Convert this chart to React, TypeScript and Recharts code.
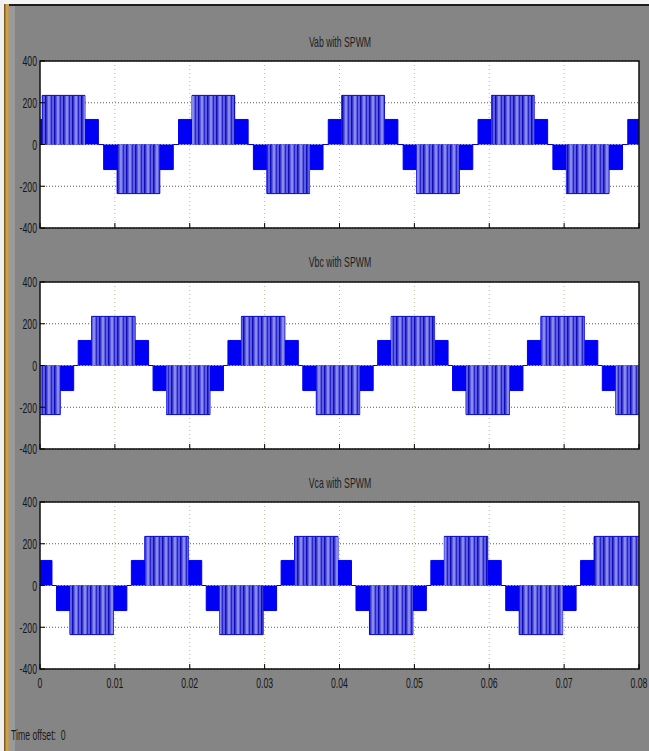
import React from "react";
import {
  ComposedChart,
  Area,
  XAxis,
  YAxis,
  CartesianGrid,
  ReferenceArea,
} from "recharts";

// Each entry: [time in s, voltage held until the next entry]
const vabSteps: [number, number][] = [
  [0, 120], [0.0003, 235], [0.006, 120], [0.0078, 0], [0.0085, -120], [0.0103, -235],
  [0.016, -120], [0.0178, 0], [0.0185, 120], [0.0203, 235], [0.026, 120], [0.0278, 0],
  [0.0285, -120], [0.0303, -235], [0.036, -120], [0.0378, 0], [0.0385, 120], [0.0403, 235],
  [0.046, 120], [0.0478, 0], [0.0485, -120], [0.0503, -235], [0.056, -120], [0.0578, 0],
  [0.0585, 120], [0.0603, 235], [0.066, 120], [0.0678, 0], [0.0685, -120], [0.0703, -235],
  [0.076, -120], [0.0778, 0], [0.0785, 120], [0.08, 120],
];

const vbcSteps: [number, number][] = [
  [0, -235], [0.0027, -120], [0.0045, 0], [0.0051, 120], [0.0069, 235], [0.0127, 120],
  [0.0145, 0], [0.0151, -120], [0.0169, -235], [0.0227, -120], [0.0245, 0], [0.0251, 120],
  [0.0269, 235], [0.0327, 120], [0.0345, 0], [0.0351, -120], [0.0369, -235], [0.0427, -120],
  [0.0445, 0], [0.0451, 120], [0.0469, 235], [0.0527, 120], [0.0545, 0], [0.0551, -120],
  [0.0569, -235], [0.0627, -120], [0.0645, 0], [0.0651, 120], [0.0669, 235], [0.0727, 120],
  [0.0745, 0], [0.0751, -120], [0.0769, -235], [0.08, -235],
];

const vcaSteps: [number, number][] = [
  [0, 120], [0.0016, 0], [0.0022, -120], [0.004, -235], [0.0098, -120], [0.0116, 0],
  [0.0122, 120], [0.014, 235], [0.0198, 120], [0.0216, 0], [0.0222, -120], [0.024, -235],
  [0.0298, -120], [0.0316, 0], [0.0322, 120], [0.034, 235], [0.0398, 120], [0.0416, 0],
  [0.0422, -120], [0.044, -235], [0.0498, -120], [0.0516, 0], [0.0522, 120], [0.054, 235],
  [0.0598, 120], [0.0616, 0], [0.0622, -120], [0.064, -235], [0.0698, -120], [0.0716, 0],
  [0.0722, 120], [0.074, 235], [0.08, 235],
];

const timeTicks = [0, 0.01, 0.02, 0.03, 0.04, 0.05, 0.06, 0.07, 0.08];
const timeLabels = ["0", "0.01", "0.02", "0.03", "0.04", "0.05", "0.06", "0.07", "0.08"];
const voltTicks = [-400, -200, 0, 200, 400];
const voltLabels = ["-400", "-200", "0", "200", "400"];
const titles = ["Vab with SPWM", "Vbc with SPWM", "Vca with SPWM"];

// envelope plus the part of the staircase where the PWM switches to the top level
function buildRows(steps: [number, number][]) {
  return steps.map(([t, v], i) => {
    const prev = i > 0 ? steps[i - 1][1] : 0;
    let pwm: number | null = null;
    if (Math.abs(v) > 200) pwm = v;
    else if (Math.abs(prev) > 200) pwm = prev;
    return { t, v, pwm };
  });
}

const condensed = "Liberation Sans, Arial, sans-serif";

function YTick(props: any) {
  const { x, y, index } = props;
  return (
    <text
      transform={`translate(${x},${y}) scale(0.58,1)`}
      textAnchor="end"
      dy="0.36em"
      fontSize={15}
      fontFamily={condensed}
      fill="#151515"
    >
      {voltLabels[index]}
    </text>
  );
}

function XTick(props: any) {
  const { x, y, index } = props;
  return (
    <text
      transform={`translate(${x},${y}) scale(0.58,1)`}
      textAnchor="middle"
      dy="0.75em"
      fontSize={15}
      fontFamily={condensed}
      fill="#151515"
    >
      {timeLabels[index]}
    </text>
  );
}

function NoTick() {
  return <g />;
}

function Scope({
  id,
  steps,
  top,
  showTime,
}: {
  id: string;
  steps: [number, number][];
  top: number;
  showTime?: boolean;
}) {
  const rows = buildRows(steps);
  const plotH = 167;
  const xAxisH = showTime ? 24 : 4;
  return (
    <div style={{ position: "absolute", left: 0, top: top - 10 }}>
      <ComposedChart
        width={649}
        height={10 + plotH + xAxisH + 8}
        data={rows}
        margin={{ top: 10, right: 10, bottom: 8, left: 0 }}
      >
        <defs>
          <pattern id={`pwm-${id}`} width="9" height="10" patternUnits="userSpaceOnUse">
            <rect x="0" y="0" width="9" height="10" fill="#5c5ce4" />
            <rect x="0" y="0" width="1.5" height="10" fill="#0e0eb4" />
            <rect x="3.5" y="0" width="1" height="10" fill="#b8b8f2" />
            <rect x="6" y="0" width="1" height="10" fill="#2626cc" />
          </pattern>
        </defs>
        <CartesianGrid
          fill="#ffffff"
          vertical={false}
          stroke="#5a5a5a"
          strokeDasharray="1 2"
        />
        <CartesianGrid
          horizontal={false}
          stroke="#b8b8a0"
          strokeDasharray="1 3"
        />
        <XAxis
          dataKey="t"
          type="number"
          domain={[0, 0.08]}
          ticks={timeTicks}
          axisLine={false}
          tickLine={{ stroke: "#000" }}
          tickSize={-5}
          tickMargin={showTime ? 13 : 5}
          height={xAxisH}
          tick={showTime ? <XTick /> : <NoTick />}
          interval={0}
        />
        <YAxis
          type="number"
          domain={[-400, 400]}
          ticks={voltTicks}
          width={40}
          axisLine={false}
          tickLine={{ stroke: "#000" }}
          tickSize={-5}
          tickMargin={8}
          tick={<YTick />}
          interval={0}
        />
        <Area
          dataKey="v"
          type="stepAfter"
          baseValue={0}
          stroke="#0000f0"
          strokeWidth={1}
          fill="#0000f5"
          fillOpacity={1}
          isAnimationActive={false}
          dot={false}
          activeDot={false}
        />
        <Area
          dataKey="pwm"
          type="stepAfter"
          baseValue={0}
          stroke="#1414c8"
          strokeWidth={1}
          fill={`url(#pwm-${id})`}
          fillOpacity={1}
          connectNulls={false}
          isAnimationActive={false}
          dot={false}
          activeDot={false}
        />
        <ReferenceArea
          x1={0}
          x2={0.08}
          y1={-400}
          y2={400}
          fill="none"
          stroke="#111"
          strokeWidth={1.5}
        />
      </ComposedChart>
    </div>
  );
}

function Title({ text, y }: { text: string; y: number }) {
  return (
    <div
      style={{
        position: "absolute",
        left: 220,
        width: 240,
        top: y - 9,
        textAlign: "center",
        fontFamily: condensed,
        fontSize: 15,
        color: "#1e1e1e",
        transform: "scaleX(0.58)",
        lineHeight: "18px",
      }}
    >
      {text}
    </div>
  );
}

export default function App() {
  return (
    <div
      style={{
        position: "absolute",
        left: 0,
        top: 0,
        width: 649,
        height: 751,
        background: "#858585",
        overflow: "hidden",
      }}
    >
      <div style={{ position: "absolute", left: 0, top: 0, width: 649, height: 4, background: "#f4f4f4" }} />
      <div style={{ position: "absolute", left: 0, top: 4, width: 649, height: 2, background: "#1c1c1c" }} />
      <div style={{ position: "absolute", left: 0, top: 0, width: 4, height: 751, background: "#f0f0f0" }} />
      <div
        style={{
          position: "absolute",
          left: 4,
          top: 4,
          width: 5,
          height: 747,
          background: "linear-gradient(to right, #6a4a14, #d0a250, #b89868)",
        }}
      />
      <div style={{ position: "absolute", left: 9, top: 6, width: 6, height: 745, background: "#9a9a9a" }} />

      <Title text={titles[0]} y={42} />
      <Title text={titles[1]} y={262} />
      <Title text={titles[2]} y={483} />

      <Scope id="ab" steps={vabSteps} top={61} />
      <Scope id="bc" steps={vbcSteps} top={282} />
      <Scope id="ca" steps={vcaSteps} top={502} showTime />

      <div
        style={{
          position: "absolute",
          left: 11,
          top: 726,
          fontFamily: condensed,
          fontSize: 15,
          color: "#1a1a1a",
          transform: "scaleX(0.58)",
          transformOrigin: "left center",
          whiteSpace: "pre",
          lineHeight: "18px",
        }}
      >
        {"Time offset:  0"}
      </div>
    </div>
  );
}
